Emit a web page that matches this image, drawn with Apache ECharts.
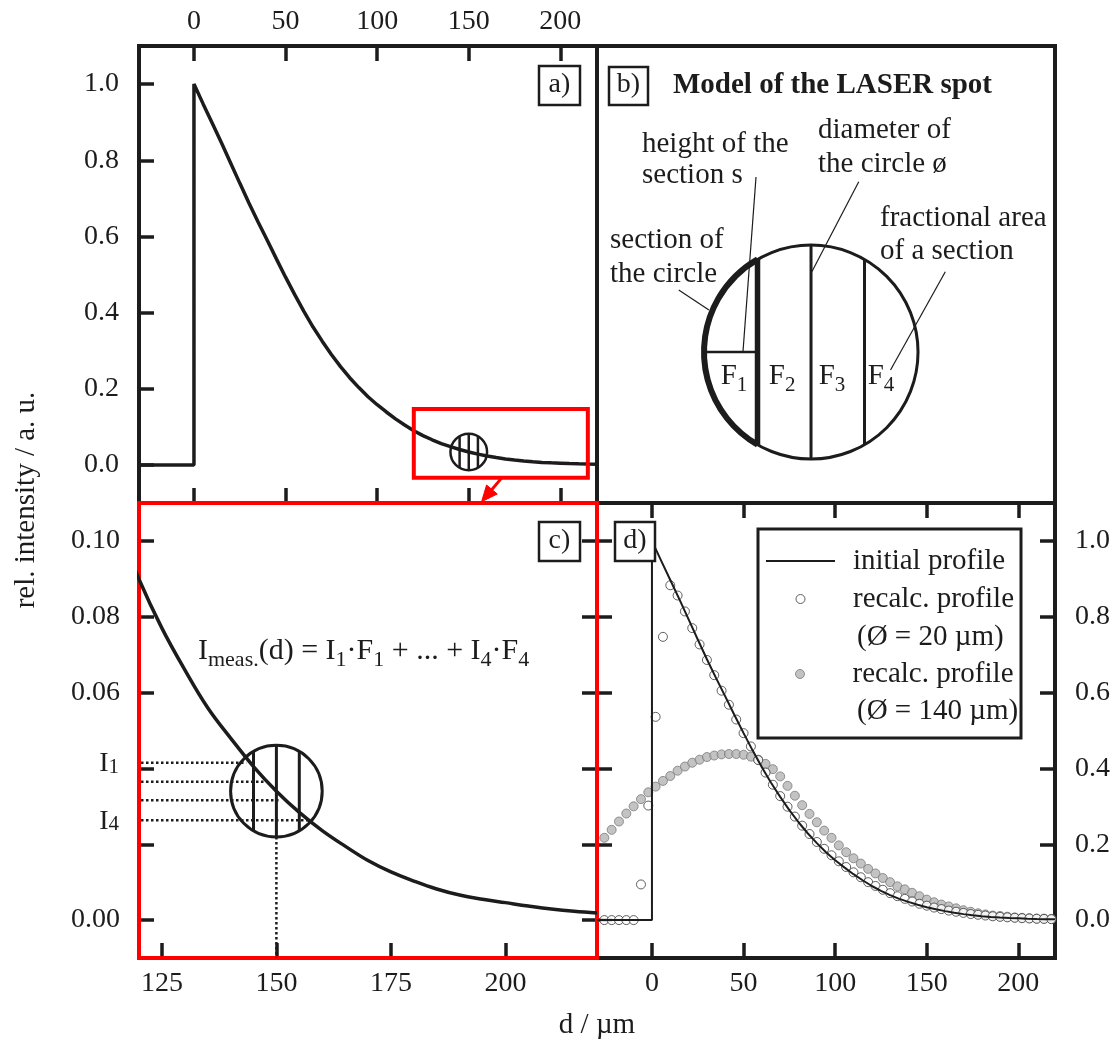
<!DOCTYPE html>
<html>
<head>
<meta charset="utf-8">
<script src="https://cdn.jsdelivr.net/npm/echarts@6.0.0/dist/echarts.min.js"></script>
<style>
  html, body { margin: 0; padding: 0; background: #ffffff; }
  #chart { width: 1118px; height: 1052px; }
</style>
</head>
<body>
<div id="chart"></div>
<script>
// ---------- data ----------
// zero level in front of the edge (d in µm, relative intensity)
const baseD = [-30, 0];
const baseI = [0, 0];
// initial intensity profile behind the edge
const profileD = [0, 5, 10, 15, 20, 25, 30, 35, 40, 45, 50, 55, 60, 65, 70, 75, 80, 85, 90, 95,
  100, 105, 110, 115, 120, 125, 130, 135, 140, 145, 150, 155, 160, 165, 170, 175, 180, 185, 190, 195,
  200, 205, 210, 215, 220];
const profileI = [1.000, 0.948, 0.897, 0.846, 0.793, 0.740, 0.688, 0.638, 0.590, 0.541,
  0.493, 0.447, 0.403, 0.362, 0.325, 0.290, 0.258, 0.229, 0.203, 0.179,
  0.158, 0.139, 0.121, 0.105, 0.0899, 0.077, 0.066, 0.056, 0.048, 0.0405,
  0.034, 0.0284, 0.0236, 0.0195, 0.0157, 0.0127, 0.0103, 0.0082, 0.0066, 0.0055,
  0.0046, 0.0037, 0.0029, 0.0023, 0.0019];
// recalculated profiles, one point every 4 µm
const recalcD = [-26, -22, -18, -14, -10, -6, -2, 2, 6, 10, 14, 18, 22, 26, 30, 34, 38, 42, 46, 50,
  54, 58, 62, 66, 70, 74, 78, 82, 86, 90, 94, 98, 102, 106, 110, 114, 118, 122, 126, 130,
  134, 138, 142, 146, 150, 154, 158, 162, 166, 170, 174, 178, 182, 186, 190, 194, 198, 202, 206, 210,
  214, 218];
const recalc20 = [0, 0, 0, 0, 0, 0.094, 0.302, 0.536, 0.747, 0.883,
  0.856, 0.814, 0.770, 0.727, 0.686, 0.646, 0.605, 0.568, 0.529, 0.493,
  0.458, 0.422, 0.389, 0.357, 0.327, 0.299, 0.273, 0.249, 0.227, 0.206,
  0.188, 0.171, 0.155, 0.140, 0.126, 0.113, 0.100, 0.090, 0.080, 0.071,
  0.063, 0.056, 0.049, 0.043, 0.038, 0.033, 0.029, 0.025, 0.022, 0.019,
  0.016, 0.014, 0.012, 0.010, 0.0085, 0.0072, 0.006, 0.005, 0.0042, 0.0035,
  0.003, 0.0025];
const recalc140 = [0.217, 0.238, 0.260, 0.281, 0.300, 0.319, 0.337, 0.352, 0.367, 0.380,
  0.394, 0.405, 0.415, 0.423, 0.430, 0.434, 0.437, 0.438, 0.438, 0.436,
  0.431, 0.423, 0.412, 0.398, 0.379, 0.354, 0.328, 0.303, 0.280, 0.258,
  0.236, 0.217, 0.197, 0.179, 0.163, 0.149, 0.135, 0.123, 0.111, 0.100,
  0.089, 0.081, 0.072, 0.063, 0.054, 0.047, 0.041, 0.036, 0.031, 0.026,
  0.022, 0.018, 0.015, 0.012, 0.011, 0.009, 0.007, 0.006, 0.005, 0.004,
  0.004, 0.003];
// laser spot placed on the profile
const spotD = 150;
const spotDiameter = 20;
// intensities I1..I4 read at the four sections, and where each reading is taken
const sectionLevels = [0.0415, 0.0365, 0.0316, 0.0263];
const sectionEnds = [143.4, 147.6, 150.8, 157.2];
const sectionTags = ['1', '', '', '4'];
// region of panel a shown enlarged in panel c
const zoomBoxD = [120, 215];
const zoomBoxI = [-0.034, 0.147];
// tick positions and labels
const dTicks = [0, 50, 100, 150, 200];
const intTicks = [0, 0.2, 0.4, 0.6, 0.8, 1.0];
const zoomDTicks = [125, 150, 175, 200];
const zoomITicks = [0, 0.02, 0.04, 0.06, 0.08, 0.10];
const zoomILabels = [0, 0.06, 0.08, 0.10];

// ---------- styling ----------
const SERIF = '"Liberation Serif", "Times New Roman", serif';
const INK = '#1c1c1c';
const RED = '#ff0000';
const FONT = '29px ' + SERIF;

const pairs = (xs, ys) => xs.map((x, i) => [x, ys[i]]);
const fullProfile = pairs(baseD, baseI).concat(pairs(profileD, profileI));
const spotI = profileI[profileD.indexOf(spotD)];

const tick = (vals) => ({ show: true, inside: true, length: 15, customValues: vals,
  lineStyle: { color: INK, width: 3.5 } });
const label = (vals, fmt, margin) => ({ show: true, customValues: vals, formatter: fmt, margin,
  fontFamily: SERIF, fontSize: 28, color: INK });
const plain = { axisLine: { show: false, onZero: false }, splitLine: { show: false } };

const RICH = {
  m: { fontFamily: SERIF, fontSize: 29, fill: INK, lineHeight: 34, verticalAlign: 'top' },
  s: { fontFamily: SERIF, fontSize: 21, fill: INK, lineHeight: 20, verticalAlign: 'bottom' }
};
const RICH_EQ = {
  m: { fontFamily: SERIF, fontSize: 30, fill: INK, lineHeight: 35, verticalAlign: 'top' },
  s: { fontFamily: SERIF, fontSize: 22, fill: INK, lineHeight: 21, verticalAlign: 'bottom' }
};
const RICH_FLAT = {
  m: { fontFamily: SERIF, fontSize: 28, fill: INK, lineHeight: 28, verticalAlign: 'top' },
  s: { fontFamily: SERIF, fontSize: 21, fill: INK, lineHeight: 21, verticalAlign: 'bottom' }
};

// ---------- custom renderers ----------
// laser spot divided into four sections (used on panels a and c)
function spotRenderer(lineWidth, dropLine) {
  return function (params, api) {
    const c = api.coord([api.value(0), api.value(1)]);
    const r = api.size([api.value(2) / 2, 0])[0];
    const kids = [{ type: 'circle', shape: { cx: c[0], cy: c[1], r },
      style: { fill: 'none', stroke: INK, lineWidth } }];
    [-0.5, 0, 0.5].forEach(f => {
      const dx = f * r, h = Math.sqrt(r * r - dx * dx);
      kids.push({ type: 'line', shape: { x1: c[0] + dx, y1: c[1] - h, x2: c[0] + dx, y2: c[1] + h },
        style: { stroke: INK, lineWidth } });
    });
    if (dropLine) {
      const cs = params.coordSys;
      kids.push({ type: 'line', shape: { x1: c[0], y1: c[1] + r, x2: c[0], y2: cs.y + cs.height },
        style: { stroke: INK, lineWidth: 2.5, lineDash: [2.5, 2.5] } });
    }
    return { type: 'group', children: kids };
  };
}

// dotted read-out lines for I1..I4
function drawLevels(params, api) {
  const end = api.coord([api.value(0), api.value(1)]);
  const cs = params.coordSys;
  const kids = [{ type: 'line', shape: { x1: cs.x + 2, y1: end[1], x2: end[0], y2: end[1] },
    style: { stroke: INK, lineWidth: 2.5, lineDash: [2.5, 2.5] } }];
  const t = sectionTags[api.value(2)];
  if (t) {
    kids.push({ type: 'text', style: { text: '{m|I}{s|' + t + '}', x: cs.x - 20, y: end[1] + 1,
      align: 'right', verticalAlign: 'middle', rich: RICH_FLAT } });
  }
  return { type: 'group', children: kids };
}

// red frame of the enlarged region plus the arrow pointing to panel c
function drawZoomMark(params, api) {
  const p0 = api.coord([api.value(0), api.value(3)]);
  const p1 = api.coord([api.value(1), api.value(2)]);
  const a = api.coord([168, api.value(2)]);
  const b = api.coord([157, -0.0966]);
  const dx = b[0] - a[0], dy = b[1] - a[1], len = Math.hypot(dx, dy);
  const ux = dx / len, uy = dy / len, L = 16, W = 7;
  const bx = b[0] - ux * L, by = b[1] - uy * L;
  return { type: 'group', children: [
    { type: 'rect', shape: { x: p0[0], y: p0[1], width: p1[0] - p0[0], height: p1[1] - p0[1] },
      style: { fill: 'none', stroke: RED, lineWidth: 4 } },
    { type: 'line', shape: { x1: a[0], y1: a[1], x2: bx + ux * 2, y2: by + uy * 2 },
      style: { stroke: RED, lineWidth: 3 } },
    { type: 'polygon', shape: { points: [[b[0], b[1]], [bx - uy * W, by + ux * W], [bx + uy * W, by - ux * W]] },
      style: { fill: RED, stroke: RED, lineWidth: 1 } }
  ] };
}

// schematic of the laser spot (panel b), drawn in units of the spot radius
function drawSpotModel(params, api) {
  const cu = api.value(0), cv = api.value(1), R = api.value(2);
  const P = (u, v) => api.coord([cu + u * R, cv + v * R]);
  const c = P(0, 0);
  const r = api.size([R, 0])[0];
  const seg = (u1, v1, u2, v2, w) => {
    const p = P(u1, v1), q = P(u2, v2);
    return { type: 'line', shape: { x1: p[0], y1: p[1], x2: q[0], y2: q[1] }, style: { stroke: INK, lineWidth: w } };
  };
  const h = Math.sqrt(0.75);
  const kids = [
    { type: 'circle', shape: { cx: c[0], cy: c[1], r }, style: { fill: 'none', stroke: INK, lineWidth: 3 } },
    { type: 'arc', shape: { cx: c[0], cy: c[1], r, startAngle: 2 * Math.PI / 3, endAngle: 4 * Math.PI / 3, clockwise: true },
      style: { fill: 'none', stroke: INK, lineWidth: 6 } },
    seg(-0.5, h, -0.5, -h, 5.5),
    seg(0, 1, 0, -1, 3),
    seg(0.5, h, 0.5, -h, 3),
    seg(-1, 0, -0.5, 0, 2.5),
    // leader lines to the annotations
    seg(-0.514, 1.636, -0.636, 0, 1.2),
    seg(0.446, 1.592, 0.009, 0.752, 1.2),
    seg(1.255, 0.750, 0.743, -0.168, 1.2),
    seg(-1.236, 0.579, -0.954, 0.393, 1.2)
  ];
  [[-0.72, '1'], [-0.27, '2'], [0.196, '3'], [0.654, '4']].forEach(([u, n]) => {
    const p = P(u, -0.25);
    kids.push({ type: 'text', style: { text: '{m|F}{s|' + n + '}', x: p[0], y: p[1], align: 'center',
      verticalAlign: 'middle', rich: RICH } });
  });
  return { type: 'group', children: kids };
}

// ---------- text helpers ----------
const txt = (text, x, y, extra, rotation) => ({ type: 'text', x, y, rotation: rotation || 0, silent: true, z: 10,
  style: Object.assign({ text, fill: INK, font: FONT, align: 'left', verticalAlign: 'middle' }, extra || {}) });
const panelTag = (text, x0, y0, x1, y1) => ({ type: 'group', z: 10, silent: true, children: [
  { type: 'rect', z: 10, shape: { x: x0, y: y0, width: x1 - x0, height: y1 - y0 },
    style: { fill: '#ffffff', stroke: INK, lineWidth: 2.5 } },
  { type: 'text', z: 11, x: (x0 + x1) / 2, y: (y0 + y1) / 2 - 1,
    style: { text, fill: INK, font: '28px ' + SERIF, align: 'center', verticalAlign: 'middle' } }
] });

const legendText = { fontFamily: SERIF, fontSize: 29, color: INK, lineHeight: 30, padding: [0, 0, 0, 13] };

const chart = echarts.init(document.getElementById('chart'), null, { width: 1118, height: 1052 });

const option = {
  animation: false,
  backgroundColor: '#ffffff',
  grid: [
    { left: 139, top: 46, width: 458, height: 457, show: true, borderColor: INK, borderWidth: 4 },
    { left: 597, top: 46, width: 458, height: 457, show: true, borderColor: INK, borderWidth: 4 },
    { left: 139, top: 503, width: 458, height: 455, show: true, borderColor: RED, borderWidth: 4, z: 1 },
    { left: 597, top: 503, width: 458, height: 455, show: true, borderColor: INK, borderWidth: 4 }
  ],
  xAxis: [
    Object.assign({ gridIndex: 0, type: 'value', position: 'top', min: -30, max: 220,
      axisTick: tick(dTicks), axisLabel: label(dTicks, v => String(v), 10) }, plain),
    Object.assign({ gridIndex: 0, type: 'value', position: 'bottom', min: -30, max: 220,
      axisTick: tick(dTicks), axisLabel: { show: false } }, plain),
    { gridIndex: 1, type: 'value', min: -2, max: 2.28, show: false },
    Object.assign({ gridIndex: 2, type: 'value', position: 'bottom', min: 120, max: 220,
      axisTick: tick(zoomDTicks), axisLabel: label(zoomDTicks, v => String(v), 12) }, plain),
    Object.assign({ gridIndex: 3, type: 'value', position: 'bottom', min: -30, max: 220,
      axisTick: tick(dTicks), axisLabel: label(dTicks, v => String(v), 12) }, plain),
    Object.assign({ gridIndex: 3, type: 'value', position: 'top', min: -30, max: 220,
      axisTick: tick(dTicks), axisLabel: { show: false } }, plain)
  ],
  yAxis: [
    Object.assign({ gridIndex: 0, type: 'value', position: 'left', min: -0.1, max: 1.1,
      axisTick: tick(intTicks), axisLabel: label(intTicks, v => v.toFixed(1), 20) }, plain),
    { gridIndex: 1, type: 'value', min: -1.411, max: 2.86, show: false },
    Object.assign({ gridIndex: 2, type: 'value', position: 'left', min: -0.01, max: 0.11,
      axisTick: tick(zoomITicks), axisLabel: label(zoomILabels, v => v.toFixed(2), 19) }, plain),
    Object.assign({ gridIndex: 2, type: 'value', position: 'right', min: -0.01, max: 0.11,
      axisTick: tick(zoomITicks), axisLabel: { show: false } }, plain),
    Object.assign({ gridIndex: 3, type: 'value', position: 'right', min: -0.1, max: 1.1,
      axisTick: tick(intTicks), axisLabel: label(intTicks, v => v.toFixed(1), 20) }, plain),
    Object.assign({ gridIndex: 3, type: 'value', position: 'left', min: -0.1, max: 1.1,
      axisTick: tick(intTicks), axisLabel: { show: false } }, plain)
  ],
  legend: [
    { left: 765, top: 546, orient: 'vertical', align: 'left', padding: 0, itemWidth: 69, itemHeight: 9, itemGap: 8,
      selectedMode: false, formatter: n => n.split(' (')[0], textStyle: legendText,
      data: [
        { name: 'initial profile', itemStyle: { opacity: 0 }, lineStyle: { color: INK, width: 2, opacity: 1 } },
        { name: 'recalc. profile (Ø = 20 µm)', itemStyle: { color: '#ffffff', borderColor: '#3a3a3a', borderWidth: 1 } }
      ] },
    { left: 795, top: 659, orient: 'vertical', align: 'left', padding: 0, itemWidth: 69, itemHeight: 9,
      selectedMode: false, formatter: n => n.split(' (')[0], textStyle: legendText,
      data: [
        { name: 'recalc. profile (Ø = 140 µm)', itemStyle: { color: '#b4b4b4', borderColor: '#7a7a7a', borderWidth: 1 } }
      ] }
  ],
  series: [
    // panel a
    { name: 'edge profile', type: 'line', xAxisIndex: 0, yAxisIndex: 0, data: fullProfile,
      symbol: 'none', color: INK, lineStyle: { color: INK, width: 3.5 }, z: 3 },
    { type: 'custom', xAxisIndex: 0, yAxisIndex: 0, renderItem: spotRenderer(2.5, false),
      data: [[spotD, spotI, spotDiameter]], z: 4 },
    { type: 'custom', xAxisIndex: 0, yAxisIndex: 0, renderItem: drawZoomMark,
      data: [[zoomBoxD[0], zoomBoxD[1], zoomBoxI[0], zoomBoxI[1]]], z: 5 },
    // panel b
    { type: 'custom', xAxisIndex: 2, yAxisIndex: 1, renderItem: drawSpotModel, data: [[0, 0, 1]], z: 4 },
    // panel c
    { name: 'enlarged profile', type: 'line', xAxisIndex: 3, yAxisIndex: 2, data: pairs(profileD, profileI),
      smooth: 0.4, symbol: 'none', color: INK, lineStyle: { color: INK, width: 3.5 }, z: 3 },
    { type: 'custom', xAxisIndex: 3, yAxisIndex: 2, renderItem: spotRenderer(3, true),
      data: [[spotD, spotI, spotDiameter]], z: 4 },
    { type: 'custom', xAxisIndex: 3, yAxisIndex: 2, renderItem: drawLevels,
      data: sectionLevels.map((v, i) => [sectionEnds[i], v, i]), z: 4 },
    // panel d
    { name: 'recalc. profile (Ø = 140 µm)', type: 'scatter', xAxisIndex: 4, yAxisIndex: 4,
      data: pairs(recalcD, recalc140), symbol: 'circle', symbolSize: 9,
      itemStyle: { color: '#b4b4b4', borderColor: '#7a7a7a', borderWidth: 1 }, z: 2 },
    { name: 'recalc. profile (Ø = 20 µm)', type: 'scatter', xAxisIndex: 4, yAxisIndex: 4,
      data: pairs(recalcD, recalc20), symbol: 'circle', symbolSize: 9,
      itemStyle: { color: '#ffffff', borderColor: '#3a3a3a', borderWidth: 1 }, z: 3 },
    { name: 'initial profile', type: 'line', xAxisIndex: 4, yAxisIndex: 4, data: fullProfile,
      symbol: 'none', color: INK, lineStyle: { color: INK, width: 2 }, z: 4 }
  ],
  graphic: [
    txt('rel. intensity / a. u.', 26, 500, { align: 'center' }, Math.PI / 2),
    txt('d / µm', 597, 1025, { align: 'center' }),
    panelTag('a)', 539, 66, 580, 105),
    panelTag('b)', 609, 67, 648, 105),
    panelTag('c)', 539, 522, 580, 561),
    panelTag('d)', 615, 522, 655, 561),
    txt('Model of the LASER spot', 673, 85.5, { font: 'bold 29px ' + SERIF }),
    txt('height of the', 642, 144),
    txt('section s', 642, 175.5),
    txt('diameter of', 818, 130.5),
    txt('the circle ø', 818, 164),
    txt('fractional area', 880, 218),
    txt('of a section', 880, 251.5),
    txt('section of', 610, 240.5),
    txt('the circle', 610, 274),
    { type: 'text', x: 198, y: 654, z: 10, silent: true, style: {
      text: '{m|I}{s|meas.}{m|(d) = I}{s|1}{m|·F}{s|1}{m| + ... + I}{s|4}{m|·F}{s|4}',
      align: 'left', verticalAlign: 'middle', rich: RICH_EQ } },
    { type: 'rect', z: 3, silent: true, shape: { x: 758, y: 529, width: 263, height: 209 },
      style: { fill: 'none', stroke: INK, lineWidth: 3 } },
    txt('(Ø = 20 µm)', 857, 637),
    txt('(Ø = 140 µm)', 857, 711)
  ]
};

chart.setOption(option);
</script>
</body>
</html>
